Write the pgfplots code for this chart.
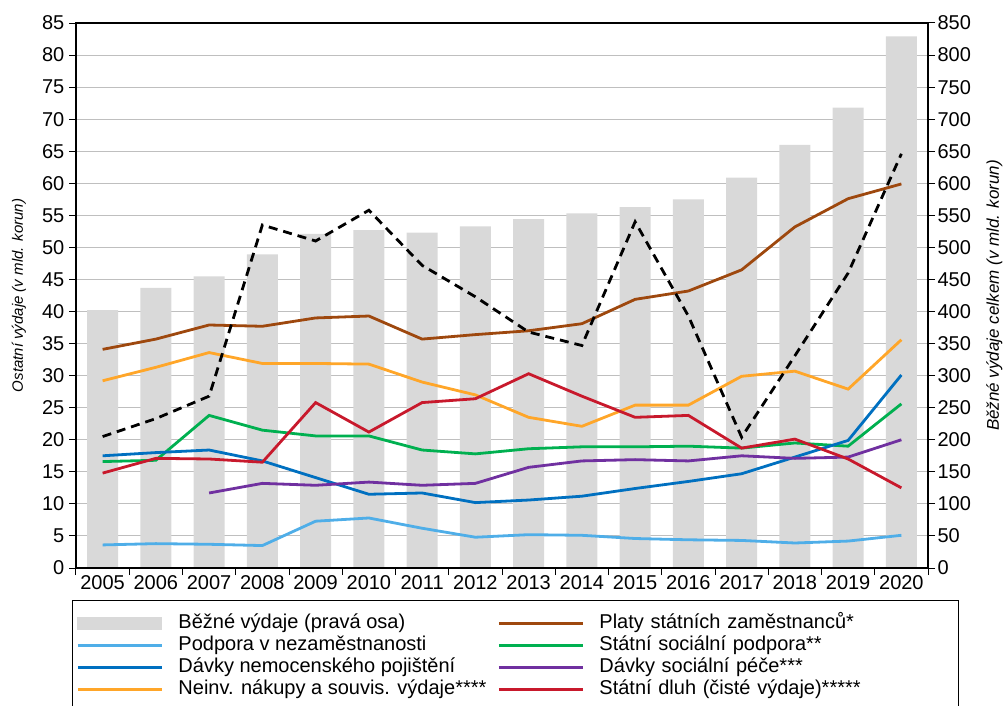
\documentclass[border=0pt]{standalone}
\usepackage{fontspec}
\setmainfont{Liberation Sans}
\usepackage{pgfplots}
\usepackage{pgfplotstable}
\pgfplotsset{compat=1.18}
\definecolor{barcol}{HTML}{D9D9D9}
\definecolor{cbrown}{HTML}{9E480E}
\definecolor{clblue}{HTML}{4FAEE8}
\definecolor{cblue}{HTML}{0070C0}
\definecolor{cgreen}{HTML}{00B050}
\definecolor{cpurple}{HTML}{7030A0}
\definecolor{corange}{HTML}{FFA629}
\definecolor{cred}{HTML}{C8192C}
\definecolor{gridc}{HTML}{BFBFBF}
\pgfplotstableread{
x bez platy podpora ssp nemoc socpece neinv dluh ost
0 402 34.1 3.6 16.6 17.5 nan 29.2 14.8 20.5
1 437 35.7 3.8 16.8 18.0 nan 31.3 17.1 23.3
2 455 37.9 3.7 23.8 18.4 11.7 33.6 17.0 26.8
3 489 37.7 3.5 21.5 16.7 13.2 31.9 16.5 53.5
4 521 39.0 7.3 20.6 14.1 12.9 31.9 25.8 51.0
5 527 39.3 7.8 20.6 11.5 13.4 31.8 21.2 55.8
6 523 35.7 6.2 18.4 11.7 12.9 29.0 25.8 47.2
7 533 36.4 4.8 17.8 10.2 13.2 27.0 26.4 42.3
8 544 37.0 5.2 18.6 10.6 15.7 23.5 30.3 36.8
9 553 38.1 5.1 18.9 11.2 16.7 22.1 26.8 34.7
10 563 41.9 4.6 18.9 12.4 16.9 25.4 23.5 54.0
11 575 43.2 4.4 19.0 13.5 16.7 25.4 23.8 39.3
12 609 46.5 4.3 18.7 14.7 17.5 29.9 18.7 20.4
13 660 53.2 3.9 19.5 17.3 17.1 30.7 20.1 33.1
14 718 57.6 4.2 19.0 19.9 17.3 27.9 17.0 46.0
15 829 59.9 5.1 25.6 30.1 20.0 35.6 12.5 64.6
}\data
\begin{document}
\begin{tikzpicture}
\pgfplotsset{
  common/.style={
    at={(0,0)}, anchor=south west,
    scale only axis, width=852pt, height=545pt,
    xmin=-0.5, xmax=15.5,
    tick align=outside, major tick length=7pt,
    axis line style={black, line width=1.1pt},
    tick style={black, line width=1pt},
    ticklabel style={font=\fontsize{20}{24}\selectfont},
    /pgf/number format/assume math mode=true,
  }
}
\begin{axis}[common,
  ymin=0, ymax=850,
  xtick=\empty,
  ytick={0,50,...,850},
  ytick pos=right, yticklabel pos=right,
  yticklabel style={xshift=-1pt},
  ymajorgrids, grid style={gridc, line width=0.9pt},
  every axis y label/.style={at={(axis description cs:1.078,0.5)}, rotate=90, anchor=center, font=\itshape\fontsize{17}{20}\selectfont},
  ylabel={Běžné výdaje celkem (v mld. korun)},
]
\addplot[ybar, bar width=31pt, fill=barcol, draw=none] table[x=x,y=bez]{\data};
\end{axis}
\begin{axis}[common,
  ymin=0, ymax=85,
  ytick={0,5,...,85},
  ytick pos=left,
  xtick pos=bottom,
  xtick={-0.5,0.5,...,15.5}, xticklabels={},
  extra x ticks={0,1,...,15},
  extra x tick labels={2005,2006,2007,2008,2009,2010,2011,2012,2013,2014,2015,2016,2017,2018,2019,2020},
  extra x tick style={major tick length=0pt, tick label style={yshift=-3pt}},
  every axis y label/.style={at={(axis description cs:-0.067,0.5)}, rotate=90, anchor=center, font=\itshape\fontsize{15}{18}\selectfont},
  ylabel={Ostatní výdaje (v mld. korun)},
  legend columns=2,
  legend cell align=left,
  legend image code/.code={\draw[#1, line width=3pt] (0pt,0pt) -- (84pt,0pt);},
  legend style={at={(axis description cs:0,0)}, anchor=north west, xshift=-4pt, yshift=-32pt,
    draw=black, line width=1pt, font=\fontsize{20}{24}\selectfont,
    inner xsep=4pt, inner ysep=12pt,
    nodes={text height=15pt, text depth=4.5pt, inner ysep=1.25pt, inner xsep=3pt},
    /tikz/every odd column/.append style={column sep=12pt},
    /tikz/every even column/.append style={column sep=8pt},
    /tikz/column 4/.append style={nodes={text width=352pt}}},
  line width=2.8pt,
]
\addlegendimage{legend image code/.code={\fill[barcol] (0pt,-6pt) rectangle (84pt,6pt);}}
\addlegendentry{Běžné výdaje (pravá osa)}
\addplot[cbrown] table[x=x,y=platy]{\data};
\addlegendentry{Platy státních zaměstnanců*}
\addplot[clblue] table[x=x,y=podpora]{\data};
\addlegendentry{Podpora v nezaměstnanosti}
\addplot[cgreen] table[x=x,y=ssp]{\data};
\addlegendentry{Státní sociální podpora**}
\addplot[cblue] table[x=x,y=nemoc]{\data};
\addlegendentry{Dávky nemocenského pojištění}
\addplot[cpurple] table[x=x,y=socpece]{\data};
\addlegendentry{Dávky sociální péče***}
\addplot[corange] table[x=x,y=neinv]{\data};
\addlegendentry{Neinv. nákupy a souvis. výdaje****}
\addplot[cred] table[x=x,y=dluh]{\data};
\addlegendentry{Státní dluh (čisté výdaje)*****}
\addplot[black, dash pattern=on 9pt off 6pt, forget plot] table[x=x,y=ost]{\data};
\end{axis}
\pgfresetboundingbox
\path[use as bounding box] (-76pt,-137pt) rectangle (928pt,568pt);
\end{tikzpicture}
\end{document}
